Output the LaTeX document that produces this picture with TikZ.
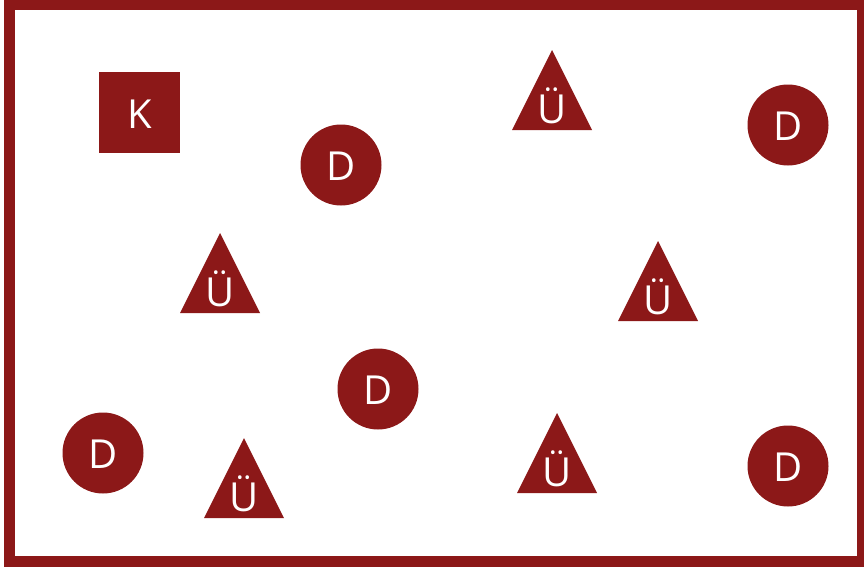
\documentclass[tikz,border=0pt]{standalone}
\usepackage{fontspec}
\setmainfont{Open Sans}
\definecolor{mred}{HTML}{8C1818}
\begin{document}
\begin{tikzpicture}[x=1pt,y=-1pt,
  lbl/.style={text=white,font=\fontsize{40}{48}\selectfont,anchor=base,inner sep=0pt},
  disc/.style={circle,fill=mred,minimum size=81pt,inner sep=0pt},
  sq/.style={rectangle,fill=mred,minimum size=81pt,inner sep=0pt}]
\useasboundingbox (0,0) rectangle (864,568);
\begin{scope}
\clip (0,0) rectangle (864,568);
\draw[mred,line width=11pt] (9.5,4.5) rectangle (862.5,561.5);
\end{scope}
% square
\node[sq] (k) at (139.5,112.5) {};
\node[lbl] (kl) at (139.5,128) {K};
% circles
\foreach \n/\x/\y in {d1/341/165, d2/788/125, d3/378/389, d4/103/453, d5/788/466}{
  \node[disc] (\n) at (\x,\y) {};
  \node[lbl] (\n l) at (\x,\y+15) {D};
}
% triangles (apex x, apex y)
\foreach \n/\x/\y in {t1/552/50, t2/220/233, t3/658/241, t4/244/438, t5/557/413}{
  \fill[mred] (\x,\y) -- (\x+40,\y+80) -- (\x-40,\y+80) -- cycle;
  \node[lbl] (\n) at (\x,\y+73) {Ü};
}
\end{tikzpicture}
\end{document}
